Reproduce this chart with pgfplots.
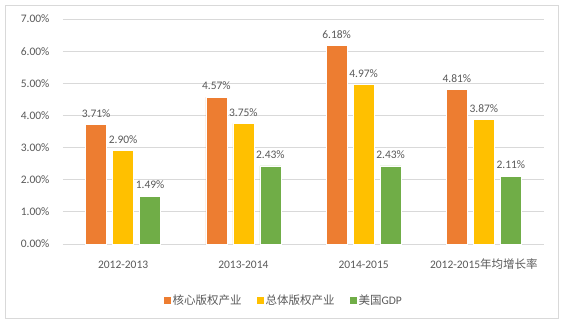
\documentclass[border=0pt]{standalone}
\usepackage{pgfplots}
\pgfplotsset{compat=1.18}
\usepackage{fontspec}
\setmainfont{Carlito}
\newfontfamily\cjk{Noto Sans CJK SC}
\definecolor{corange}{HTML}{ED7D31}
\definecolor{cgold}{HTML}{FFC000}
\definecolor{cgreen}{HTML}{70AD47}
\definecolor{textgray}{HTML}{595959}
\definecolor{gridgray}{HTML}{D9D9D9}
\begin{document}
\begin{tikzpicture}[font=\fontsize{11.5}{14}\selectfont]
\path[use as bounding box] (-63pt,-81pt) rectangle (502pt,244pt);
\draw[gridgray, line width=0.8pt] (-57.5pt,-74pt) rectangle (495.5pt,239pt);
\begin{axis}[
  at={(0,0)}, anchor=south west,
  scale only axis,
  width=481pt, height=225pt,
  xmin=-0.5, xmax=3.5, ymin=0, ymax=7,
  ybar=6pt, bar width=21pt,
  axis line style={draw=none},
  major tick length=0pt,
  ymajorgrids, grid style={gridgray, line width=0.8pt},
  ytick={0,1,...,7},
  /pgf/number format/assume math mode=true,
  yticklabel={\pgfmathprintnumber[fixed,fixed zerofill,precision=2]{\tick}\%},
  yticklabel style={text=textgray, xshift=-10pt},
  xtick={0,1,2,3},
  xticklabels={2012-2013, 2013-2014, 2014-2015, {2012-2015\cjk 年均增长率}},
  xticklabel style={text=textgray, anchor=base, yshift=-24pt},
  nodes near coords={\pgfmathprintnumber[fixed,fixed zerofill,precision=2]{\pgfplotspointmeta}\%},
  every node near coord/.append style={text=textgray, yshift=3.5pt},
  legend columns=3,
  legend style={at={(0.459,-0.249)}, anchor=center, draw=none, fill=none,
    text=textgray, inner sep=0pt,
    /tikz/every even column/.append style={column sep=14pt},
    nodes={inner sep=1.5pt}},
  legend image code/.code={\fill[#1, draw=none] (0pt,-3.5pt) rectangle (7pt,3.5pt);},
]
\addplot[fill=corange, draw=white, line width=0.6pt] coordinates {(0,3.71) (1,4.57) (2,6.18) (3,4.81)};
\addplot[fill=cgold, draw=white, line width=0.6pt] coordinates {(0,2.90) (1,3.75) (2,4.97) (3,3.87)};
\addplot[fill=cgreen, draw=white, line width=0.6pt] coordinates {(0,1.49) (1,2.43) (2,2.43) (3,2.11)};
\legend{{\cjk 核心版权产业}, {\cjk 总体版权产业}, {\cjk 美国}GDP}
\end{axis}
\end{tikzpicture}
\end{document}
